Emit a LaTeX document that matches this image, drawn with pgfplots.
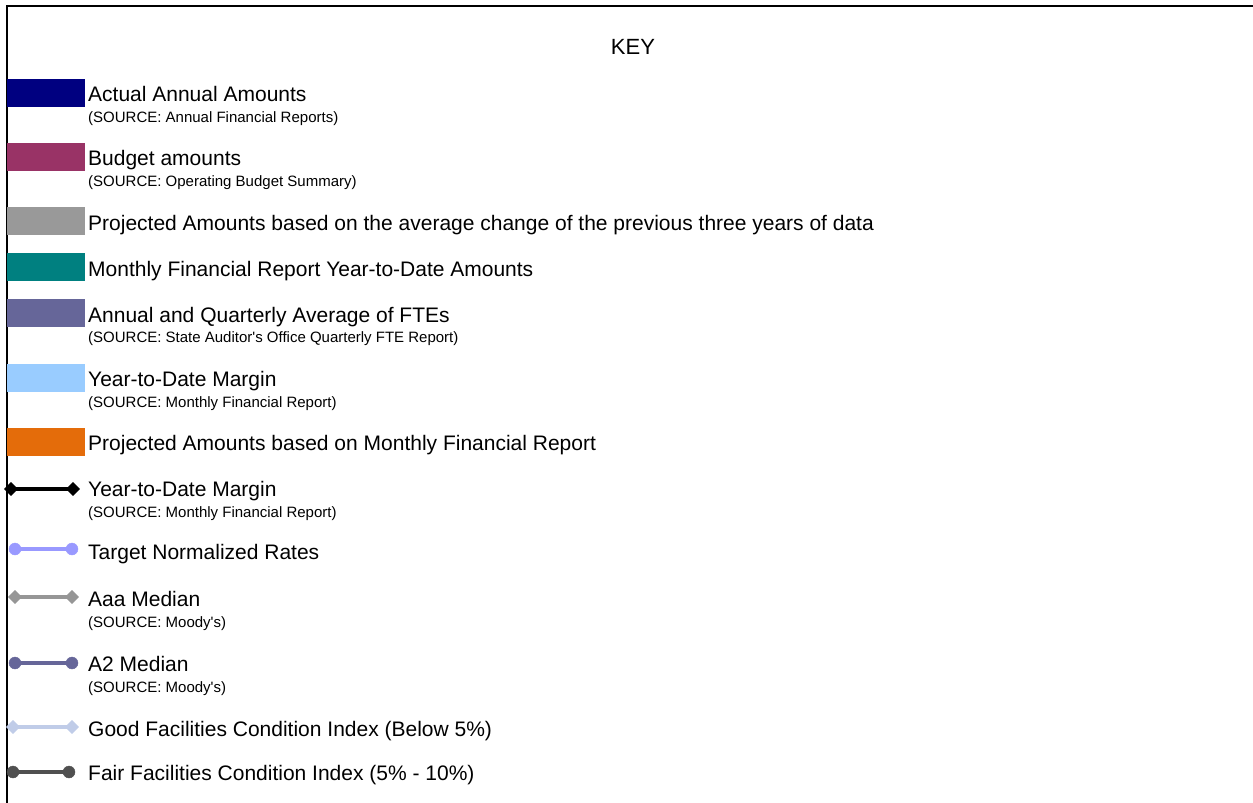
\documentclass[border=0pt]{standalone}
\usepackage{fontspec}
\setmainfont{Liberation Sans}
\usepackage{pgfplots}
\pgfplotsset{compat=1.18}

\definecolor{cActual}{RGB}{0,0,128}
\definecolor{cBudget}{RGB}{153,51,102}
\definecolor{cProj}{RGB}{153,153,153}
\definecolor{cMonthly}{RGB}{0,128,128}
\definecolor{cFTE}{RGB}{102,102,153}
\definecolor{cYTD}{RGB}{153,204,255}
\definecolor{cProjMFR}{RGB}{228,108,10}
\definecolor{cTarget}{RGB}{153,153,255}
\definecolor{cAaa}{RGB}{150,150,150}
\definecolor{cAtwo}{RGB}{102,102,153}
\definecolor{cGood}{RGB}{192,204,232}
\definecolor{cFair}{RGB}{80,80,80}

\newcommand{\bigtxt}{\fontsize{21}{25}\selectfont}
\newcommand{\smltxt}{\fontsize{15}{18}\selectfont}

\begin{document}
\begin{tikzpicture}
\useasboundingbox (0,0) rectangle (1253pt,803pt);
\begin{axis}[
  width=1253pt, height=803pt, scale only axis,
  xmin=0, xmax=1253, ymin=0, ymax=803, y dir=reverse,
  axis lines=none, clip=false,
  swatch/.style={line width=28pt, draw=#1, line cap=butt},
  keyline/.style={line width=4.5pt, color=#1},
]
  % frame (top and left edges show)
  \addplot[black, line width=2.5pt] coordinates {(7,803)(7,6)(1253,6)};

  \node[anchor=base, inner sep=0pt] at (axis cs:633,54) {\fontsize{22}{26}\selectfont KEY};

  % colour swatches
  \addplot[swatch=cActual]   coordinates {(7,93)(85,93)};
  \addplot[swatch=cBudget]   coordinates {(7,157)(85,157)};
  \addplot[swatch=cProj]     coordinates {(7,221)(85,221)};
  \addplot[swatch=cMonthly]  coordinates {(7,267)(85,267)};
  \addplot[swatch=cFTE]      coordinates {(7,313)(85,313)};
  \addplot[swatch=cYTD]      coordinates {(7,378)(85,378)};
  \addplot[swatch=cProjMFR]  coordinates {(7,442)(85,442)};

  % line keys
  \addplot[keyline=black, mark=square*, mark size=4.7pt,
    mark options={rotate=45, line width=0.4pt}] coordinates {(11,489)(73,489)};
  \addplot[keyline=cTarget, mark=*, mark size=6pt,
    mark options={line width=0.4pt}] coordinates {(15,549)(72,549)};
  \addplot[keyline=cAaa, mark=square*, mark size=4.7pt,
    mark options={rotate=45, line width=0.4pt}] coordinates {(15,597)(72,597)};
  \addplot[keyline=cAtwo, mark=*, mark size=6pt,
    mark options={line width=0.4pt}] coordinates {(15,663)(72,663)};
  \addplot[keyline=cGood, mark=square*, mark size=4.7pt,
    mark options={rotate=45, line width=0.4pt}] coordinates {(13,727)(72,727)};
  \addplot[keyline=cFair, mark=*, mark size=6pt,
    mark options={line width=0.4pt}] coordinates {(13,772)(69,772)};

  % labels
  \begin{scope}[every node/.append style={anchor=base west, inner sep=0pt}]
  \node at (axis cs:88,101) {\bigtxt Actual Annual Amounts};
  \node at (axis cs:88,122) {\smltxt (SOURCE: Annual Financial Reports)};
  \node at (axis cs:88,165) {\bigtxt Budget amounts};
  \node at (axis cs:88,186) {\smltxt (SOURCE: Operating Budget Summary)};
  \node at (axis cs:88,230) {\bigtxt Projected Amounts based on the average change of the previous three years of data};
  \node at (axis cs:88,276) {\bigtxt Monthly Financial Report Year-to-Date Amounts};
  \node at (axis cs:88,322) {\bigtxt Annual and Quarterly Average of FTEs};
  \node at (axis cs:88,342) {\smltxt (SOURCE: State Auditor\textquotesingle s Office Quarterly FTE Report)};
  \node at (axis cs:88,386) {\bigtxt Year-to-Date Margin};
  \node at (axis cs:88,407) {\smltxt (SOURCE: Monthly Financial Report)};
  \node at (axis cs:88,450) {\bigtxt Projected Amounts based on Monthly Financial Report};
  \node at (axis cs:88,496) {\bigtxt Year-to-Date Margin};
  \node at (axis cs:88,517) {\smltxt (SOURCE: Monthly Financial Report)};
  \node at (axis cs:88,559) {\bigtxt Target Normalized Rates};
  \node at (axis cs:88,606) {\bigtxt Aaa Median};
  \node at (axis cs:88,627) {\smltxt (SOURCE: Moody\textquotesingle s)};
  \node at (axis cs:88,671) {\bigtxt A2 Median};
  \node at (axis cs:88,692) {\smltxt (SOURCE: Moody\textquotesingle s)};
  \node at (axis cs:88,736) {\bigtxt Good Facilities Condition Index (Below 5\%)};
  \node at (axis cs:88,780) {\bigtxt Fair Facilities Condition Index (5\% - 10\%)};
  \end{scope}
\end{axis}
\end{tikzpicture}
\end{document}
